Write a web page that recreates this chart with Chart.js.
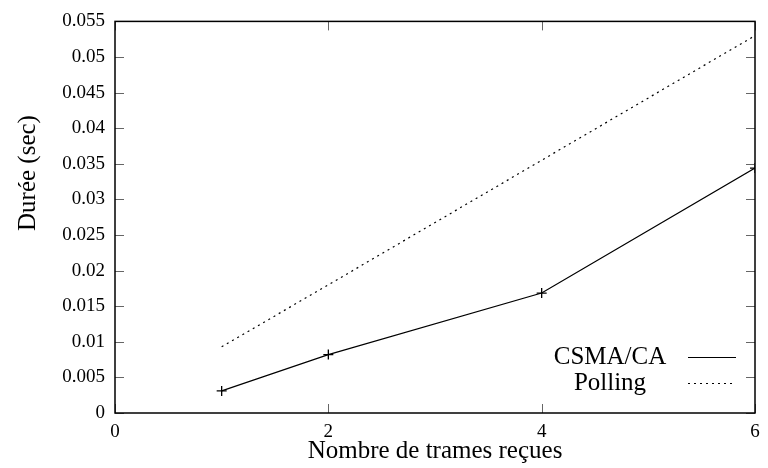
<!DOCTYPE html>
<html>
<head>
<meta charset="utf-8">
<script src="https://cdn.jsdelivr.net/npm/chart.js@4/dist/chart.umd.min.js"></script>
<style>
html,body{margin:0;padding:0;background:#fff;}
#wrap{width:768px;height:468px;}
</style>
</head>
<body>
<div id="wrap"><canvas id="c" width="768" height="468"></canvas></div>
<script>
const xValues = [1, 2, 4, 6];
const csmaValues = [0.0031, 0.0082, 0.01685, 0.0344];
const pollingValues = [0.0093, 0.0180, 0.0355, 0.0530];
const xTicks = [0, 2, 4, 6];
const yTicks = [0, 0.005, 0.01, 0.015, 0.02, 0.025, 0.03, 0.035, 0.04, 0.045, 0.05, 0.055];
const yTickLabels = ['0','0.005','0.01','0.015','0.02','0.025','0.03','0.035','0.04','0.045','0.05','0.055'];
const seriesNames = ['CSMA/CA', 'Polling'];
const xTitle = 'Nombre de trames reçues';
const yTitle = 'Durée (sec)';

const FONT = '"Liberation Serif", "DejaVu Serif", serif';

const framePlugin = {
  id: 'frame',
  afterDatasetsDraw(chart) {
    const ctx = chart.ctx;
    const a = chart.chartArea;
    const xs = chart.scales.x, ys = chart.scales.y;
    ctx.save();
    // inward ticks
    ctx.strokeStyle = '#666';
    ctx.lineWidth = 1;
    const L = 9;
    ctx.beginPath();
    yTicks.forEach(v => {
      const y = Math.round(ys.getPixelForValue(v)) + 0.5;
      ctx.moveTo(a.left, y); ctx.lineTo(a.left + L, y);
      ctx.moveTo(a.right, y); ctx.lineTo(a.right - L, y);
    });
    xTicks.forEach(v => {
      const x = Math.round(xs.getPixelForValue(v)) + 0.5;
      ctx.moveTo(x, a.bottom); ctx.lineTo(x, a.bottom - L);
      ctx.moveTo(x, a.top); ctx.lineTo(x, a.top + L);
    });
    ctx.stroke();
    // border
    ctx.strokeStyle = '#000';
    ctx.lineWidth = 1.5;
    ctx.strokeRect(a.left, a.top, a.right - a.left, a.bottom - a.top);
    // legend
    ctx.font = '25px ' + FONT;
    ctx.fillStyle = '#000';
    ctx.textAlign = 'center';
    ctx.textBaseline = 'middle';
    const legendY = [357, 383];
    chart.data.datasets.forEach((ds, i) => {
      ctx.fillText(ds.label, 610, legendY[i]);
      ctx.beginPath();
      ctx.strokeStyle = ds.borderColor;
      ctx.lineWidth = ds.borderWidth;
      ctx.setLineDash(ds.borderDash || []);
      ctx.moveTo(688, legendY[i] + 0.5);
      ctx.lineTo(736, legendY[i] + 0.5);
      ctx.stroke();
      ctx.setLineDash([]);
    });
    // y title
    ctx.translate(28, 173);
    ctx.rotate(-Math.PI / 2);
    ctx.textAlign = 'center';
    ctx.textBaseline = 'middle';
    ctx.font = '25px ' + FONT;
    ctx.fillStyle = '#000';
    ctx.fillText(yTitle, 0, 0);
    ctx.restore();
  }
};

new Chart(document.getElementById('c'), {
  type: 'line',
  data: {
    datasets: [
      {
        label: seriesNames[0],
        data: xValues.map((x, i) => ({x: x, y: csmaValues[i]})),
        borderColor: '#000',
        backgroundColor: '#000',
        borderWidth: 1.2,
        pointStyle: 'cross',
        pointRadius: 5,
        pointBorderWidth: 1.3,
        pointBorderColor: '#000',
        tension: 0,
        fill: false
      },
      {
        label: seriesNames[1],
        data: xValues.map((x, i) => ({x: x, y: pollingValues[i]})),
        borderColor: '#000',
        backgroundColor: '#000',
        borderWidth: 1.2,
        borderDash: [2, 4],
        pointRadius: 0,
        tension: 0,
        fill: false
      }
    ]
  },
  options: {
    responsive: false,
    animation: false,
    layout: {padding: {left: 0, right: 13, top: 19, bottom: 0}},
    plugins: {legend: {display: false}, tooltip: {enabled: false}},
    scales: {
      x: {
        type: 'linear',
        min: 0, max: 6,
        afterBuildTicks(s) { s.ticks = xTicks.map(v => ({value: v})); },
        afterFit(s) { s.height = 55; },
        grid: {display: false, drawTicks: false},
        border: {display: false},
        ticks: {
          padding: 8,
          color: '#000',
          font: {family: FONT, size: 19},
          callback: (v) => String(v),
          maxRotation: 0
        },
        title: {
          display: true,
          text: xTitle,
          color: '#000',
          font: {family: FONT, size: 25},
          padding: {top: 0, bottom: 2}
        }
      },
      y: {
        type: 'linear',
        min: 0, max: 0.055,
        afterBuildTicks(s) { s.ticks = yTicks.map(v => ({value: v})); },
        afterFit(s) { s.width = 115; },
        grid: {display: false, drawTicks: false},
        border: {display: false},
        ticks: {
          padding: 10,
          color: '#000',
          font: {family: FONT, size: 19},
          callback: (v, i) => yTickLabels[i]
        }
      }
    }
  },
  plugins: [framePlugin]
});
</script>
</body>
</html>
